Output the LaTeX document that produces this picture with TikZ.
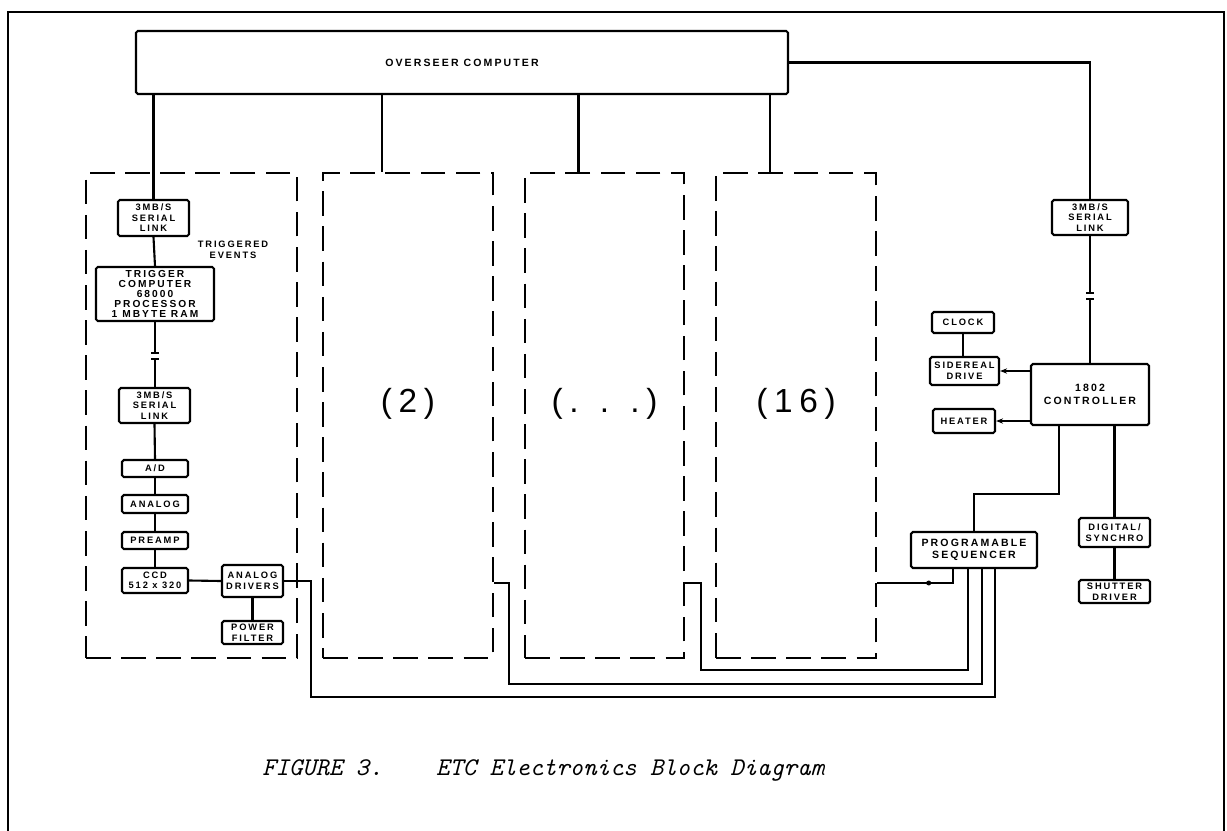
\documentclass[tikz,border=0pt]{standalone}
\usepackage{fontspec}
\setsansfont{Liberation Sans}
\newfontfamily\lettering[LetterSpace=20]{Liberation Sans}
\usetikzlibrary{arrows.meta, positioning, fit}

\tikzset{
    blk/.style={draw, line width=1.2pt, rounded corners=1pt, inner sep=0pt},
    boxtext/.style={align=center, inner sep=0pt, font=\lettering\bfseries\fontsize{5.3}{6}\selectfont},
    txt/.style={label={[boxtext]center:{#1}}},
    bigtxt/.style={label={[boxtext, font=\lettering\bfseries\fontsize{6}{7.2}\selectfont]center:{#1}}},
    tighttxt/.style={label={[boxtext, font=\lettering\bfseries\fontsize{5.8}{5.6}\selectfont]center:{#1}}},
    camunit/.style={draw, line width=1.2pt, dash pattern=on 14pt off 6pt, inner sep=0pt,
        font=\lettering\fontsize{19}{22}\selectfont},
    wire/.style={line width=1.2pt},
    dotmark/.style={circle, fill, inner sep=1pt},
}

\begin{document}
\begin{tikzpicture}[>={Stealth[length=4pt, width=3pt]}, x=0.02cm, y=-0.02cm]
    \useasboundingbox (0,0) rectangle (1227,831);

    % Frame
    \draw[wire] (8,831) |- (1224,12) -- (1224,831);

    % Overseer computer
    \node[blk, fit={(136,31) (788,94)}, bigtxt={OVERSEER COMPUTER}] (over) {};

    % Camera units
    \node[camunit, fit={(86,173) (297,658)}] (b1) {};
    \foreach \name/\xa/\xb/\txt in {b2/323/493/{(2)}, b3/525/684/{(. . .)}, b4/716/876/{(16)}} {
        \node[camunit, fit={(\xa,173) (\xb,658)}] (\name) {\txt};
        \draw[wire] ([xshift=-0.52cm]\name.north) -- ([xshift=-0.52cm]\name.north |- over.south);
    }

    % Unit 1 chain
    \node[blk, fit={(118,200) (189,236)}, txt={3MB/S\\SERIAL\\LINK}] (ser1) {};
    \node[blk, fit={(96,267) (214,321)}, tighttxt={TRIGGER\\COMPUTER\\68000\\PROCESSOR\\1 MBYTE RAM}] (trig) {};
    \node[blk, fit={(119,388) (190,423)}, txt={3MB/S\\SERIAL\\LINK}] (ser1b) {};
    \node[blk, fit={(122,460) (188,477)}, txt={A/D}] (ad) {};
    \foreach \name/\ya/\yb/\txt in {anlg/495/513/{ANALOG}, pre/532/549/{PREAMP}, ccd/568/593/{CCD\\512 x 320}} {
        \node[blk, fit={(122,\ya) (188,\yb)}, txt={\txt}] (\name) {};
    }
    \node[blk, fit={(222,565) (283,597)}, txt={ANALOG\\DRIVERS}] (adrv) {};
    \node[blk, fit={(222,621) (283,644)}, txt={POWER\\FILTER}] (pwr) {};
    \node[boxtext] (trgev) at (233,250) {TRIGGERED\\EVENTS};

    \draw[wire] (ser1.north) -- (ser1.north |- over.south);
    \draw[wire] (ser1.south) -- (trig.north);
    \coordinate (brk1) at (trig.south |- 0,356);
    \draw[wire] (trig.south) -- ([yshift=0.06cm]brk1) ++(-4,0) -- ++(8,0);
    \draw[wire] (ser1b.north -| brk1) -- ([yshift=-0.06cm]brk1) ++(-4,0) -- ++(8,0);
    \foreach \a/\b in {ser1b/ad, ad/anlg, anlg/pre, pre/ccd} {
        \draw[wire] (\a.south) -- (\b.north);
    }
    \draw[wire] (ccd.east) -- (adrv.west);
    \draw[wire] (adrv.south) -- (pwr.north);

    % Controller side
    \node[blk, fit={(1052,200) (1128,235)}, txt={3MB/S\\SERIAL\\LINK}] (ser2) {};
    \node[blk, fit={(1031,364) (1149,425)}, bigtxt={1802\\CONTROLLER}] (ctrl) {};
    \node[blk, fit={(932,312) (994,333)}, txt={CLOCK}] (clk) {};
    \node[blk, fit={(930,357) (999,385)}, txt={SIDEREAL\\DRIVE}] (sid) {};
    \node[blk, fit={(933,409) (995,433)}, txt={HEATER}] (heat) {};
    \node[blk, fit={(911,532) (1037,568)}, bigtxt={PROGRAMABLE\\SEQUENCER}] (seq) {};
    \node[blk, fit={(1079,518) (1150,547)}, txt={DIGITAL/\\SYNCHRO}] (dig) {};
    \node[blk, fit={(1079,580) (1150,603)}, txt={SHUTTER\\DRIVER}] (shut) {};

    \draw[wire] (over.east) -| (ser2.north);
    \coordinate (brk2) at (ser2.south |- 0,296);
    \draw[wire] (ser2.south) -- ([yshift=0.06cm]brk2) ++(-4,0) -- ++(8,0);
    \draw[wire] (ctrl.north -| brk2) -- ([yshift=-0.06cm]brk2) ++(-4,0) -- ++(8,0);
    \draw[wire] (clk.south) -- (clk.south |- sid.north);
    \draw[wire, ->] (ctrl.west |- sid.east) -- (sid.east);
    \draw[wire, ->] (ctrl.west |- heat.east) -- (heat.east);
    \draw[wire] ([xshift=-0.62cm]ctrl.south) |- ([yshift=0.74cm]seq.north) -- (seq.north);
    \draw[wire] (dig.north) -- (dig.north |- ctrl.south);
    \draw[wire] (dig.south) -- (shut.north);

    % Sequencer bus
    \draw[wire] ([xshift=-0.42cm]seq.south) |- (b4.east |- 0,583) node[pos=0.66, dotmark] (busdot) {};
    \draw[wire] ([xshift=-0.12cm]seq.south) |- (701,670) |- (b3.east |- 0,583);
    \draw[wire] ([xshift=0.16cm]seq.south) |- (509,684) |- (b2.east |- 0,583);
    \draw[wire] ([xshift=0.42cm]seq.south) |- (311,697) |- (adrv.east);

    % Caption
    \node[anchor=west, inner sep=0pt, font=\ttfamily\itshape\fontsize{14.5}{17}\selectfont] (cap) at (262,770)
        {FIGURE 3.\ \ \ \ ETC Electronics Block Diagram};
\end{tikzpicture}
\end{document}
